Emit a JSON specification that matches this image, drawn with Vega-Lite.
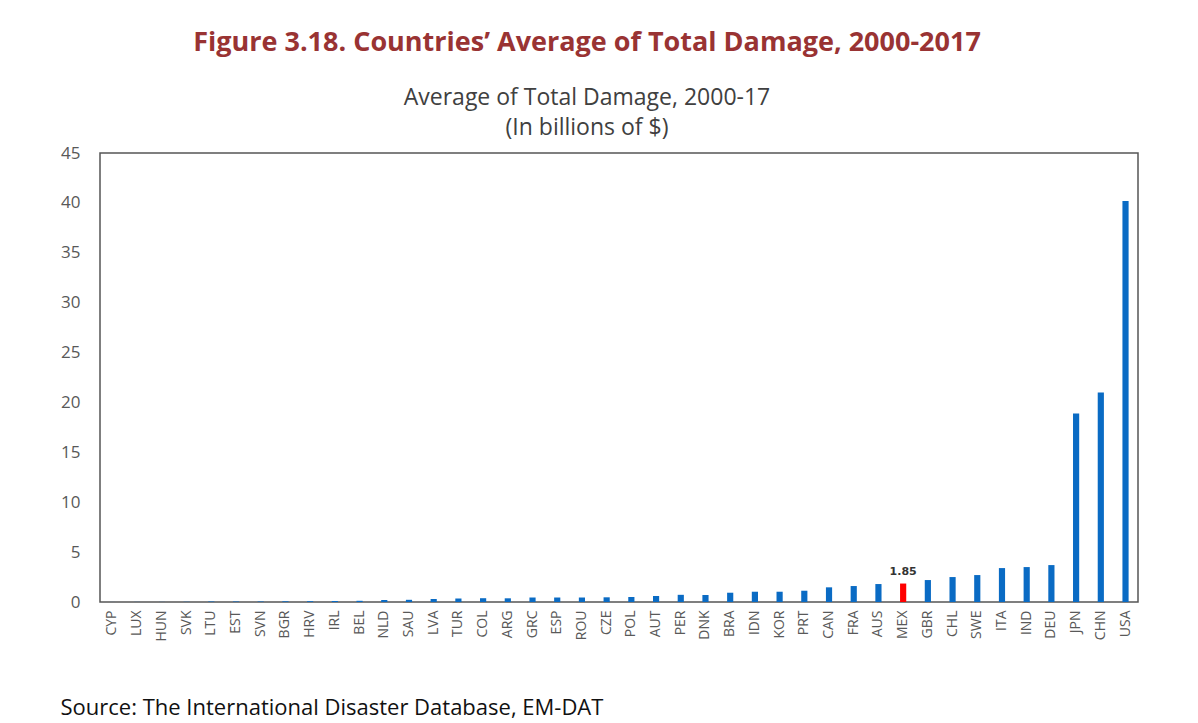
{
  "$schema": "https://vega.github.io/schema/vega-lite/v6.json",
  "width": 1038,
  "height": 449,
  "autosize": {"type": "none"},
  "padding": {"left": 100, "top": 153, "right": 60, "bottom": 121},
  "background": "white",
  "title": {
    "text": "Figure 3.18. Countries’ Average of Total Damage, 2000-2017",
    "subtitle": ["Average of Total Damage, 2000-17", "(In billions of $)"],
    "anchor": "middle",
    "frame": "group",
    "dx": -32,
    "offset": 3,
    "font": "Open Sans",
    "fontSize": 27,
    "fontWeight": "bold",
    "color": "#993333",
    "subtitleFont": "Open Sans",
    "subtitleFontSize": 23,
    "subtitleColor": "#404040",
    "subtitleLineHeight": 30,
    "subtitlePadding": 30
  },
  "data": {
    "values": [
      {"country": "CYP", "value": 0.005},
      {"country": "LUX", "value": 0.01},
      {"country": "HUN", "value": 0.01},
      {"country": "SVK", "value": 0.02},
      {"country": "LTU", "value": 0.05},
      {"country": "EST", "value": 0.05},
      {"country": "SVN", "value": 0.05},
      {"country": "BGR", "value": 0.07},
      {"country": "HRV", "value": 0.08},
      {"country": "IRL", "value": 0.1},
      {"country": "BEL", "value": 0.12},
      {"country": "NLD", "value": 0.2},
      {"country": "SAU", "value": 0.22},
      {"country": "LVA", "value": 0.3},
      {"country": "TUR", "value": 0.35},
      {"country": "COL", "value": 0.38},
      {"country": "ARG", "value": 0.37},
      {"country": "GRC", "value": 0.45},
      {"country": "ESP", "value": 0.45},
      {"country": "ROU", "value": 0.45},
      {"country": "CZE", "value": 0.47},
      {"country": "POL", "value": 0.5},
      {"country": "AUT", "value": 0.6},
      {"country": "PER", "value": 0.72},
      {"country": "DNK", "value": 0.7},
      {"country": "BRA", "value": 0.93},
      {"country": "IDN", "value": 1.03},
      {"country": "KOR", "value": 1.03},
      {"country": "PRT", "value": 1.13},
      {"country": "CAN", "value": 1.47},
      {"country": "FRA", "value": 1.6},
      {"country": "AUS", "value": 1.8},
      {"country": "MEX", "value": 1.85},
      {"country": "GBR", "value": 2.2},
      {"country": "CHL", "value": 2.5},
      {"country": "SWE", "value": 2.7},
      {"country": "ITA", "value": 3.4},
      {"country": "IND", "value": 3.5},
      {"country": "DEU", "value": 3.7},
      {"country": "JPN", "value": 18.9},
      {"country": "CHN", "value": 21.0},
      {"country": "USA", "value": 40.2}
    ]
  },
  "encoding": {
    "x": {
      "field": "country",
      "type": "nominal",
      "sort": null,
      "scale": {"paddingInner": 0.75, "paddingOuter": 0.38},
      "axis": {
        "title": "Source: The International Disaster Database, EM-DAT",
        "titleFont": "Open Sans",
        "titleFontSize": 22,
        "titleFontWeight": "normal",
        "titleColor": "#111111",
        "titleAnchor": "start",
        "titleAlign": "left",
        "titleBaseline": "alphabetic",
        "titleX": -40,
        "titleY": 112,
        "labelAngle": -90,
        "labelFont": "Open Sans",
        "labelFontSize": 14,
        "labelColor": "#595959",
        "labelPadding": 8,
        "ticks": false,
        "domain": false
      }
    },
    "y": {
      "field": "value",
      "type": "quantitative",
      "scale": {"domain": [0, 45], "nice": false},
      "axis": {
        "title": null,
        "values": [0, 5, 10, 15, 20, 25, 30, 35, 40, 45],
        "labelFont": "Open Sans",
        "labelFontSize": 17,
        "labelColor": "#595959",
        "labelPadding": 20,
        "ticks": false,
        "domain": false,
        "grid": false
      }
    }
  },
  "layer": [
    {
      "mark": {"type": "bar"},
      "encoding": {
        "color": {
          "condition": {"test": "datum.country === 'MEX'", "value": "#FF0000"},
          "value": "#0A6BC4"
        }
      }
    },
    {
      "transform": [{"filter": "datum.country === 'MEX'"}],
      "mark": {"type": "text", "dy": -12, "font": "DejaVu Sans", "fontSize": 11, "fontWeight": "bold", "color": "#333333"},
      "encoding": {"text": {"field": "value", "type": "quantitative", "format": ".2f"}}
    }
  ],
  "config": {
    "view": {"stroke": "#555555", "strokeWidth": 1.5}
  }
}
